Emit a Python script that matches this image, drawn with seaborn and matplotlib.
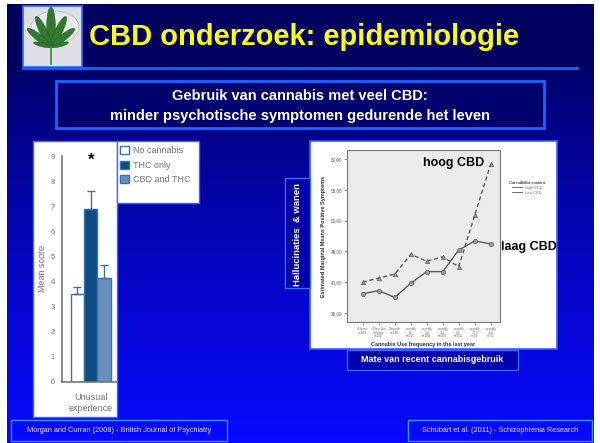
import numpy as np
import pandas as pd
import matplotlib
matplotlib.use('Agg')
import matplotlib.pyplot as plt
import matplotlib.patches as mpatches
from matplotlib.lines import Line2D
import seaborn as sns

# left chart: Morgan & Curran (2008)
groups = ['No cannabis', 'THC only', 'CBD and THC']
mean_scores = [3.5, 6.9, 4.15]
err_tops = [3.8, 7.6, 4.65]
bar_colors = ['#ffffff', '#0e4c85', '#6a8fbd']
bar_category = 'Unusual\nexperience'
left_yticks = list(range(10))

# right chart: Schubart et al. (2011)
freq_labels = ['<1/year\nn=468', '<1/mo but\n>1/year\nn=232', '1/month\nn=236',
               'weekly\n<1\nn=115', 'weekly\n1-2\nn=108', 'weekly\n3-4\nn=100',
               'weekly\n5-6\nn=106', 'weekly\n7-13\nn=82', 'weekly\n>14\nn=72']
high_cbd = [40.0, 40.65, 41.3, 44.5, 43.4, 44.1, 42.5, 50.9, 59.2]
low_cbd = [38.1, 38.6, 37.5, 39.8, 41.7, 41.7, 45.2, 46.7, 46.2]
right_yticks = [35, 40, 45, 50, 55, 60]

W, H = 600, 443
plt.rcParams['font.family'] = ['Liberation Sans', 'DejaVu Sans']
fig = plt.figure(figsize=(6, 4.43), dpi=100, facecolor='white')


def px_axes(x0, y0, x1, y1):
    return fig.add_axes([x0 / W, 1 - y1 / H, (x1 - x0) / W, (y1 - y0) / H])


def fx(x):
    return x / W


def fy(y):
    return 1 - y / H


# slide background
bg = px_axes(0, 0, W, H)
bg.axis('off')

ys = np.arange(4, H) + 0.5
t = np.clip((ys - 68) / (H - 68), 0, 1) ** 0.8
blue = np.where(ys < 68, 0.37, 0.40 + 0.60 * t)
grad = np.stack([0.03 * t, 0.04 * t, blue], axis=1)[:, None, :]
bg.imshow(grad, extent=(7, 594, H, 4), aspect='auto', zorder=0)
bg.set_xlim(0, W)
bg.set_ylim(H, 0)

# header logo
bg.add_patch(mpatches.Rectangle((23, 6), 59, 61, facecolor='#dedee6', edgecolor='#2f6bff', lw=1.2, zorder=2))
bg.add_patch(mpatches.Ellipse((55, 27), 48, 32, facecolor='#e8e8ee', edgecolor='#c4b4a8', lw=0.5, zorder=3))
cx, cy = 51, 47
for a, L in zip([90, 64, 116, 38, 142, 14, 166], [40, 34, 34, 30, 30, 18, 18]):
    r = np.radians(a)
    bg.add_patch(mpatches.Ellipse((cx + L / 2 * np.cos(r), cy - L / 2 * np.sin(r)), L, L * 0.22,
                                  angle=-a, facecolor='#2f7a2f', edgecolor='#1f5a1f', lw=0.3, zorder=4))
bg.plot([cx, cx], [cy, 64], color='#3a8a3a', lw=1.2, zorder=4)
bg.text(89, 45, 'CBD onderzoek: epidemiologie', color='#ffff00', fontsize=21,
        fontweight='bold', ha='left', va='baseline', zorder=5)
bg.plot([23, 577], [68, 68], color='#0066ff', lw=2.2, zorder=2)

# subtitle box
bg.add_patch(mpatches.Rectangle((56, 81), 488, 47, facecolor='#00006e', edgecolor='#1a66ff', lw=2, zorder=2))
bg.text(300, 96, 'Gebruik van cannabis met veel CBD:', color='white', fontsize=10.5,
        fontweight='bold', ha='center', va='center', zorder=3)
bg.text(300, 116, 'minder psychotische symptomen gedurende het leven', color='white', fontsize=10.5,
        fontweight='bold', ha='center', va='center', zorder=3)

# left chart panels
bg.add_patch(mpatches.Rectangle((33, 141), 84, 276, facecolor='white', edgecolor='#3a6cf5', lw=1, zorder=2))
bg.add_patch(mpatches.Rectangle((117, 141), 82, 62, facecolor='white', edgecolor='#3a6cf5', lw=1, zorder=2))

ax1 = px_axes(62, 156, 117, 382)
ax1.set_facecolor('none')
df_bar = pd.DataFrame({'measure': [bar_category] * len(groups), 'group': groups, 'score': mean_scores})
sns.barplot(data=df_bar, x='measure', y='score', hue='group', hue_order=groups, palette=bar_colors,
            width=0.8, errorbar=None, legend=False, saturation=1, ax=ax1,
            edgecolor='#3a73a8', linewidth=1.0)
centers = [p.get_x() + p.get_width() / 2 for p in ax1.patches]
ax1.errorbar(centers, mean_scores, yerr=[np.zeros(len(groups)), np.array(err_tops) - np.array(mean_scores)],
             fmt='none', ecolor='#3a73a8', elinewidth=1, capsize=3, capthick=1)
ax1.set_ylim(0, 9)
ax1.set_xlim(-0.574, 0.526)
ax1.set_yticks(left_yticks)
for s in ['top', 'right']:
    ax1.spines[s].set_visible(False)
for s in ['left', 'bottom']:
    ax1.spines[s].set_color('#777777')
    ax1.spines[s].set_linewidth(1.2)
ax1.tick_params(axis='y', length=0, labelsize=5.5, labelcolor='#777777', pad=5)
ax1.tick_params(axis='x', length=0, labelsize=6.5, labelcolor='#777777', pad=8)
ax1.set_xlabel('')
ax1.set_ylabel('Mean score', fontsize=6.5, color='#777777', labelpad=3)
ax1.text(centers[1], 8.85, '*', ha='center', va='center', fontsize=12, fontweight='bold', color='black')

fig.legend(handles=[mpatches.Patch(facecolor=c, edgecolor='#3a73a8', label=g) for g, c in zip(groups, bar_colors)],
           loc='upper left', bbox_to_anchor=(fx(120), fy(146)), frameon=False, fontsize=6.5,
           labelcolor='#777777', handlelength=1.0, handleheight=1.0, handletextpad=0.4,
           labelspacing=0.6, borderaxespad=0, borderpad=0)

# right chart panel
bg.add_patch(mpatches.Rectangle((310, 141), 247, 208, facecolor='white', edgecolor='#3a5cff', lw=1.2, zorder=2))

ax2 = px_axes(347, 150, 500, 322)
ax2.set_facecolor('#ebebeb')
n = len(freq_labels)
df_line = pd.DataFrame({'freq': list(range(n)) * 2, 'score': high_cbd + low_cbd,
                        'content': ['High CBD'] * n + ['Low CBD'] * n})
sns.lineplot(data=df_line, x='freq', y='score', style='content',
             markers={'High CBD': '^', 'Low CBD': 'o'}, dashes={'High CBD': (3, 2), 'Low CBD': ''},
             color='#5a5a5a', lw=1, markersize=3, markerfacecolor='#a0a0a0', markeredgecolor='#505050',
             markeredgewidth=0.5, legend=False, ax=ax2)
ax2.set_xlim(-0.98, 8.58)
ax2.set_ylim(33.5, 61.5)
ax2.set_yticks(right_yticks)
ax2.set_yticklabels([f'{v},00' for v in right_yticks])
ax2.set_xticks(range(n))
ax2.set_xticklabels(freq_labels, fontsize=2.3, linespacing=0.9)
for s in ax2.spines.values():
    s.set_color('#777777')
    s.set_linewidth(0.8)
ax2.tick_params(length=2, width=0.5, color='#777777', labelcolor='#666666', pad=1.5)
ax2.tick_params(axis='y', labelsize=3.3)
ax2.set_xlabel('Cannabis Use frequency in the last year', fontsize=4, fontweight='bold', color='#333333', labelpad=3)
ax2.set_ylabel('Estimated Marginal Means Positive Symptoms', fontsize=4, fontweight='bold', color='#333333', labelpad=3)

fig.legend(handles=[Line2D([], [], color='#555555', lw=0.6, label='High CBD'),
                    Line2D([], [], color='#555555', lw=0.6, label='Low CBD')],
           title='Cannabidiol content', title_fontsize=3, fontsize=2.8, labelcolor='#777777',
           loc='upper left', bbox_to_anchor=(fx(509), fy(181)), frameon=False,
           handlelength=2.5, labelspacing=0.2, borderaxespad=0, borderpad=0)

fig.text(fx(454), fy(163), 'hoog CBD', ha='center', va='center', fontsize=9, fontweight='bold', color='black')
fig.text(fx(529), fy(247), 'laag CBD', ha='center', va='center', fontsize=9, fontweight='bold', color='black')

# side labels
bg.add_patch(mpatches.Rectangle((285, 178), 25, 110, facecolor='#0000a8', edgecolor='#3a6cff', lw=1, zorder=3))
bg.text(297.5, 235, 'Hallucinaties  & wanen', rotation=90, color='white', fontsize=6.8,
        fontweight='bold', ha='center', va='center', zorder=4)
bg.add_patch(mpatches.Rectangle((347, 350), 171, 20, facecolor='#0000b0', edgecolor='#3a6cff', lw=1, zorder=3))
bg.text(432.5, 360, 'Mate van recent cannabisgebruik', color='white', fontsize=6.5,
        fontweight='bold', ha='center', va='center', zorder=4)

# footer
bg.add_patch(mpatches.Rectangle((11, 420), 216, 21, facecolor='none', edgecolor='#3399ff', lw=1, zorder=3))
bg.text(119, 430.5, 'Morgan and Curran (2008) - British Journal of Psychiatry', color='#e0e0ff',
        fontsize=5.3, ha='center', va='center', zorder=4)
bg.add_patch(mpatches.Rectangle((408, 420), 184, 21, facecolor='none', edgecolor='#3399ff', lw=1, zorder=3))
bg.text(500, 430.5, 'Schubart et al. (2011) - Schizophrenia Research', color='#e0e0ff',
        fontsize=5.3, ha='center', va='center', zorder=4)

fig.savefig('out.png', dpi=100)
